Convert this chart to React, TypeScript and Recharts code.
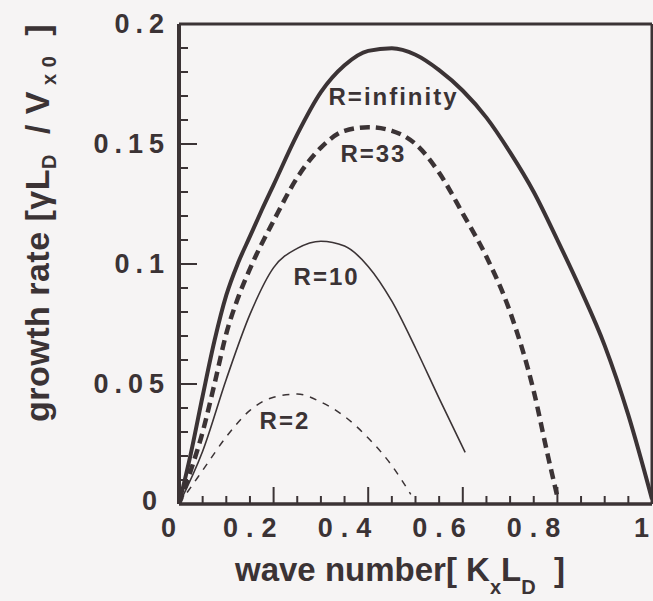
import React from 'react';
import { LineChart, Line, XAxis, YAxis, ReferenceDot, Label } from 'recharts';

// ---- data ----
const kInf = [0, 0.025, 0.05, 0.075, 0.1, 0.125, 0.15, 0.175, 0.2, 0.25, 0.3, 0.35, 0.4, 0.45, 0.5, 0.55, 0.6, 0.65, 0.7, 0.75, 0.8, 0.85, 0.9, 0.95, 1.0];
const gInf = [0, 0.021, 0.045, 0.068, 0.087, 0.1005, 0.1115, 0.1225, 0.133, 0.154, 0.1716, 0.1828, 0.1888, 0.1899, 0.1872, 0.1808, 0.1722, 0.161, 0.1465, 0.130, 0.110, 0.089, 0.066, 0.037, 0.002];

const k33 = [0, 0.025, 0.05, 0.075, 0.1, 0.125, 0.15, 0.2, 0.25, 0.3, 0.35, 0.4, 0.45, 0.5, 0.55, 0.6, 0.65, 0.7, 0.75, 0.78, 0.8];
const g33 = [0, 0.014, 0.030, 0.050, 0.071, 0.086, 0.098, 0.118, 0.136, 0.1485, 0.1555, 0.157, 0.1555, 0.150, 0.138, 0.121, 0.103, 0.080, 0.047, 0.020, 0.003];

const k10 = [0, 0.05, 0.1, 0.15, 0.2, 0.25, 0.3, 0.35, 0.4, 0.45, 0.5, 0.55, 0.605];
const g10 = [0, 0.022, 0.052, 0.079, 0.0985, 0.1065, 0.1095, 0.1075, 0.099, 0.0845, 0.065, 0.044, 0.0215];

const k2 = [0, 0.05, 0.1, 0.15, 0.2, 0.25, 0.3, 0.35, 0.4, 0.45, 0.49];
const g2 = [0, 0.014, 0.028, 0.039, 0.0445, 0.0458, 0.0425, 0.0365, 0.0275, 0.016, 0.004];

const xTicks = [0, 0.05, 0.1, 0.15, 0.2, 0.25, 0.3, 0.35, 0.4, 0.45, 0.5, 0.55, 0.6, 0.65, 0.7, 0.75, 0.8, 0.85, 0.9, 0.95, 1];
const xMajor = [0, 0.2, 0.4, 0.6, 0.8, 1];
const xMajorLabels = ['0', '0.2', '0.4', '0.6', '0.8', '1'];

const yTicks = [0, 0.01, 0.02, 0.03, 0.04, 0.05, 0.06, 0.07, 0.08, 0.09, 0.1, 0.11, 0.12, 0.13, 0.14, 0.15, 0.16, 0.17, 0.18, 0.19, 0.2];
const yMajor = [0, 0.05, 0.1, 0.15, 0.2];
const yMajorLabels = ['0', '0.05', '0.1', '0.15', '0.2'];

const seriesNames = ['R=infinity', 'R=33', 'R=10', 'R=2'];
const labelK = [0.4536, 0.411, 0.312, 0.224];
const labelG = [0.1696, 0.1458, 0.0946, 0.0346];

const build = (ks: number[], gs: number[]) => ks.map((k, i) => ({ k, g: gs[i] }));
const dataInf = build(kInf, gInf);
const data33 = build(k33, g33);
const data10 = build(k10, g10);
const data2 = build(k2, g2);

// ---- style ----
const INK = '#3b3335';
const BG = '#f6f4f4';
const FONT = '"Liberation Sans", Arial, Helvetica, sans-serif';
const TICK_FS = 27;
const YTICK_LS = 6;
const XTICK_LS = 8;

const majorIndex = (v: number, majors: number[]) => majors.findIndex((m) => Math.abs(m - v) < 1e-9);

const tickStyle = { stroke: INK, strokeWidth: 2, fill: 'none' };

const BottomTick = (p: any) => {
  const v = p.payload.value;
  const mi = majorIndex(v, xMajor);
  const len = mi >= 0 ? 17 : 8;
  const last = mi === xMajor.length - 1;
  const first = mi === 0;
  const shift = first || last ? -3 : 3;
  return (
    <g>
      <path d={`M${p.x},${p.y}V${p.y - len}`} style={tickStyle} />
      {mi >= 0 && (
        <text x={p.x + shift + XTICK_LS} y={p.y + 33} textAnchor="end" fontFamily={FONT} fontWeight="bold"
          fontSize={TICK_FS} letterSpacing={XTICK_LS} style={{ fill: INK }}>{xMajorLabels[mi]}</text>
      )}
    </g>
  );
};

const TopTick = (p: any) => {
  const v = p.payload.value;
  const mi = majorIndex(v, xMajor);
  const len = mi >= 0 ? 17 : 8;
  return <path d={`M${p.x},${p.y}V${p.y + len}`} style={tickStyle} />;
};

const LeftTick = (p: any) => {
  const v = p.payload.value;
  const mi = majorIndex(v, yMajor);
  const len = mi >= 0 ? 18 : 9;
  const isZero = mi === 0;
  return (
    <g>
      <path d={`M${p.x},${p.y}H${p.x + len}`} style={tickStyle} />
      {mi >= 0 && (
        <text x={p.x - 15 + YTICK_LS - (isZero ? 7 : 0)} y={p.y + 9 - (isZero ? 3 : 0)} textAnchor="end" fontFamily={FONT}
          fontWeight="bold" fontSize={TICK_FS} letterSpacing={YTICK_LS} style={{ fill: INK }}>{yMajorLabels[mi]}</text>
      )}
    </g>
  );
};

const RightTick = (p: any) => {
  const v = p.payload.value;
  const mi = majorIndex(v, yMajor);
  const len = mi >= 0 ? 18 : 9;
  return <path d={`M${p.x},${p.y}H${p.x - len}`} style={tickStyle} />;
};

const XTitle = () => {
  const cx = 400;
  const y = 581;
  return (
    <text x={cx} y={y} textAnchor="middle" fontFamily={FONT} fontWeight="bold" fontSize={33} fill={INK}>
      wave number[ K<tspan fontSize={20} dy={13}>x</tspan>
      <tspan dy={-13}>L</tspan>
      <tspan fontSize={20} dy={13}>D</tspan>
      <tspan dy={-13}>{'\u00a0\u00a0]'}</tspan>
    </text>
  );
};

const YTitle = () => {
  const cx = 37;
  const cy = 223;
  return (
    <text x={cx} y={cy} transform={`rotate(-90, ${cx}, ${cy})`} textAnchor="middle" dominantBaseline="central"
      fontFamily={FONT} fontWeight="bold" fontSize={34} letterSpacing={0.5} fill={INK}>
      growth rate [γL<tspan fontSize={20} dy={12}>D</tspan>
      <tspan dy={-12}>{'\u00a0\u00a0/ V'}</tspan>
      <tspan fontSize={20} dy={12}>{'\u00a0x\u00a00'}</tspan>
      <tspan dy={-12}>{'\u00a0\u00a0]'}</tspan>
    </text>
  );
};

const SeriesLabel = (text: string) => (p: any) => (
  <text x={p.cx} y={p.cy + 8} textAnchor="middle" fontFamily={FONT} fontWeight="bold" fontSize={24}
    letterSpacing={2} fill={INK}>{text}</text>
);

export default function App() {
  return (
    <div style={{ position: 'absolute', left: 0, top: 0, width: 653, height: 601, background: BG }}>
      <LineChart width={653} height={601} margin={{ top: 23, right: 0, bottom: 96, left: 178 }}>
        <XAxis xAxisId="b" type="number" dataKey="k" domain={[0, 1]} ticks={xTicks} interval={0}
          orientation="bottom" height={1} tickLine={false} tickSize={0} tickMargin={0}
          axisLine={{ stroke: INK, strokeWidth: 3.5 }} tick={BottomTick}>
          <Label content={XTitle} />
        </XAxis>
        <XAxis xAxisId="t" type="number" dataKey="k" domain={[0, 1]} ticks={xTicks} interval={0}
          orientation="top" height={1} tickLine={false} tickSize={0} tickMargin={0}
          axisLine={{ stroke: INK, strokeWidth: 3 }} tick={TopTick} />
        <YAxis yAxisId="l" type="number" domain={[0, 0.2]} ticks={yTicks} interval={0}
          orientation="left" width={1} tickLine={false} tickSize={0} tickMargin={0}
          axisLine={{ stroke: INK, strokeWidth: 4 }} tick={LeftTick}>
          <Label content={YTitle} />
        </YAxis>
        <YAxis yAxisId="r" type="number" domain={[0, 0.2]} ticks={yTicks} interval={0}
          orientation="right" width={1} tickLine={false} tickSize={0} tickMargin={0}
          axisLine={{ stroke: INK, strokeWidth: 3 }} tick={RightTick} />

        <Line xAxisId="b" yAxisId="l" data={dataInf} dataKey="g" type="monotone" stroke={INK} strokeWidth={4}
          dot={false} isAnimationActive={false} />
        <Line xAxisId="b" yAxisId="l" data={data33} dataKey="g" type="monotone" stroke={INK} strokeWidth={4.5}
          strokeDasharray="10 6" dot={false} isAnimationActive={false} />
        <Line xAxisId="b" yAxisId="l" data={data10} dataKey="g" type="monotone" stroke={INK} strokeWidth={1.6}
          dot={false} isAnimationActive={false} />
        <Line xAxisId="b" yAxisId="l" data={data2} dataKey="g" type="monotone" stroke={INK} strokeWidth={1.5}
          strokeDasharray="7 7" dot={false} isAnimationActive={false} />

        {seriesNames.map((n, i) => (
          <ReferenceDot key={n} xAxisId="b" yAxisId="l" x={labelK[i]} y={labelG[i]} r={0}
            shape={SeriesLabel(n)} />
        ))}
      </LineChart>
    </div>
  );
}
